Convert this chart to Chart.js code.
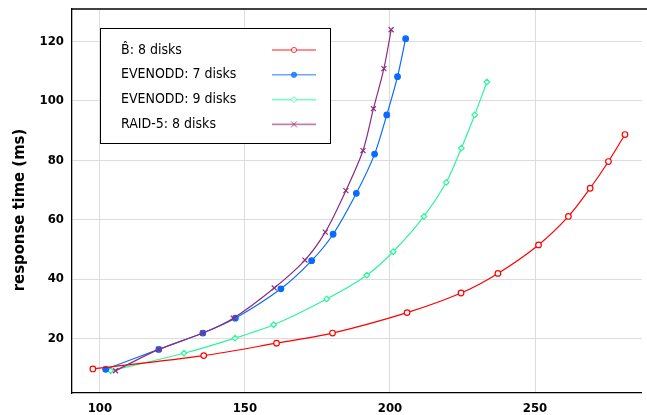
<!DOCTYPE html>
<html>
<head>
<meta charset="utf-8">
<script src="https://cdn.jsdelivr.net/npm/chart.js@4/dist/chart.umd.min.js"></script>
<style>
  html, body { margin: 0; padding: 0; background: #ffffff; }
  #wrap { width: 647px; height: 415px; position: relative; }
</style>
</head>
<body>
<div id="wrap"><canvas id="chart"></canvas></div>
<script>
// Valeurs (débit en x, temps de réponse en y)
const seriesLabels = ['B\u0302: 8 disks', 'EVENODD: 7 disks', 'EVENODD: 9 disks', 'RAID-5: 8 disks'];
const yTitle = 'response time (ms)';

const bhat8X = [97.6, 135.8, 160.9, 180.2, 205.9, 224.5, 237.2, 251.2, 261.5, 269.0, 275.3, 281.0];
const bhat8Y = [9.7, 14.2, 18.4, 21.8, 28.7, 35.3, 41.9, 51.5, 61.1, 70.6, 79.6, 88.7];

const evenodd7X = [102.0, 120.3, 135.5, 146.7, 162.4, 173.0, 180.4, 188.4, 194.7, 198.9, 202.6, 205.4];
const evenodd7Y = [9.6, 16.3, 21.8, 26.8, 36.7, 46.2, 55.1, 68.9, 82.1, 95.3, 108.2, 121.0];

const evenodd9X = [103.7, 129.0, 146.6, 159.9, 178.2, 192.0, 201.1, 211.7, 219.4, 224.6, 229.2, 233.4];
const evenodd9Y = [9.1, 15.0, 20.1, 24.6, 33.3, 41.3, 49.2, 61.1, 72.6, 84.1, 95.3, 106.4];

const raid5X = [105.4, 120.3, 135.5, 146.0, 160.1, 170.7, 177.7, 184.8, 190.7, 194.3, 197.9, 200.4];
const raid5Y = [9.1, 16.3, 21.8, 26.8, 37.0, 46.4, 55.8, 69.8, 83.3, 97.4, 110.9, 124.0];

const xTicks = [100, 150, 200, 250];
const yTicks = [20, 40, 60, 80, 100, 120];

const colors = ['#ff0000', '#0a6cff', '#2ef59a', '#8c2d7e'];
const FONT = "'DejaVu Sans Condensed', 'DejaVu Sans', sans-serif";

function toPoints(xs, ys) {
    return xs.map((x, i) => ({ x: x, y: ys[i] }));
}

const allX = [bhat8X, evenodd7X, evenodd9X, raid5X];
const allY = [bhat8Y, evenodd7Y, evenodd9Y, raid5Y];
const pointStyles = ['circle', 'circle', 'rectRot', 'crossRot'];
const filled = [false, true, false, false];

const datasets = seriesLabels.map((label, i) => ({
    label: label,
    data: toPoints(allX[i], allY[i]),
    showLine: true,
    borderColor: colors[i],
    borderWidth: 1.2,
    tension: 0.3,
    pointStyle: pointStyles[i],
    pointRadius: i === 3 ? 3.5 : 2.8,
    pointBorderWidth: 1.2,
    pointBorderColor: colors[i],
    pointBackgroundColor: filled[i] ? colors[i] : '#ffffff',
    order: i === 3 ? 0 : 1
}));

// Légende dessinée à la main : texte à gauche, échantillon de ligne à droite
const legendPlugin = {
    id: 'boxLegend',
    afterDraw(chart) {
        const ctx = chart.ctx;
        const area = chart.chartArea;
        ctx.save();
        // trait du haut du cadre
        ctx.strokeStyle = '#000000';
        ctx.lineWidth = 1.3;
        ctx.beginPath();
        ctx.moveTo(area.left, area.top);
        ctx.lineTo(chart.width, area.top);
        ctx.stroke();

        // titre de l'axe y
        ctx.save();
        ctx.translate(20, 210);
        ctx.rotate(-Math.PI / 2);
        ctx.font = 'bold 16.5px ' + FONT;
        ctx.fillStyle = '#000000';
        ctx.textAlign = 'center';
        ctx.textBaseline = 'middle';
        ctx.fillText(yTitle, 0, 0);
        ctx.restore();

        const bx = 100.5, by = 28.5, bw = 230, bh = 115;
        ctx.fillStyle = '#ffffff';
        ctx.fillRect(bx, by, bw, bh);
        ctx.lineWidth = 1;
        ctx.strokeRect(bx, by, bw, bh);

        ctx.font = '14px ' + FONT;
        ctx.textBaseline = 'middle';
        seriesLabels.forEach((label, i) => {
            const y = 50 + i * 24.8;
            ctx.fillStyle = '#000000';
            ctx.fillText(label, 121, y);
            ctx.globalAlpha = 0.6;
            ctx.strokeStyle = colors[i];
            ctx.lineWidth = 1.6;
            ctx.beginPath();
            ctx.moveTo(272, y);
            ctx.lineTo(316, y);
            ctx.stroke();
            ctx.globalAlpha = 0.75;
            ctx.lineWidth = 1;
            ctx.fillStyle = filled[i] ? colors[i] : '#ffffff';
            const cx = 294;
            ctx.beginPath();
            if (pointStyles[i] === 'circle') {
                ctx.arc(cx, y, 2.6, 0, Math.PI * 2);
                ctx.fill();
                ctx.stroke();
            } else if (pointStyles[i] === 'rectRot') {
                ctx.moveTo(cx, y - 3); ctx.lineTo(cx + 3, y); ctx.lineTo(cx, y + 3); ctx.lineTo(cx - 3, y); ctx.closePath();
                ctx.fill();
                ctx.stroke();
            } else {
                ctx.moveTo(cx - 3, y - 3); ctx.lineTo(cx + 3, y + 3);
                ctx.moveTo(cx + 3, y - 3); ctx.lineTo(cx - 3, y + 3);
                ctx.stroke();
            }
            ctx.globalAlpha = 1;
        });
        ctx.restore();
    }
};

new Chart(document.getElementById('chart').getContext('2d'), {
    type: 'scatter',
    data: { datasets: datasets },
    plugins: [legendPlugin],
    options: {
        responsive: true,
        maintainAspectRatio: false,
        animation: false,
        layout: { padding: { left: 0, right: 0, top: 9, bottom: 0 } },
        plugins: {
            legend: { display: false },
            tooltip: { enabled: false }
        },
        scales: {
            x: {
                type: 'linear',
                min: 90.4,
                max: 286.8,
                afterBuildTicks: function(scale) {
                    scale.ticks = xTicks.map(v => ({ value: v }));
                },
                afterFit: function(scale) {
                    scale.height = 22;
                    scale.paddingLeft = 0;
                    scale.paddingRight = 0;
                },
                ticks: {
                    padding: 8,
                    color: '#000000',
                    font: { family: FONT, size: 13, weight: 'bold' }
                },
                grid: { color: '#dcdcdc', lineWidth: 1, drawTicks: false },
                border: { color: '#000000', width: 1.3 }
            },
            y: {
                type: 'linear',
                min: 1.6,
                max: 131.0,
                afterBuildTicks: function(scale) {
                    scale.ticks = yTicks.map(v => ({ value: v }));
                },
                afterFit: function(scale) {
                    scale.width = 72;
                    scale.paddingTop = 0;
                    scale.paddingBottom = 0;
                },
                ticks: {
                    padding: 8,
                    color: '#000000',
                    font: { family: FONT, size: 13, weight: 'bold' }
                },
                grid: { color: '#dcdcdc', lineWidth: 1, drawTicks: false },
                border: { color: '#000000', width: 1.3 }
            }
        }
    }
});
</script>
</body>
</html>
